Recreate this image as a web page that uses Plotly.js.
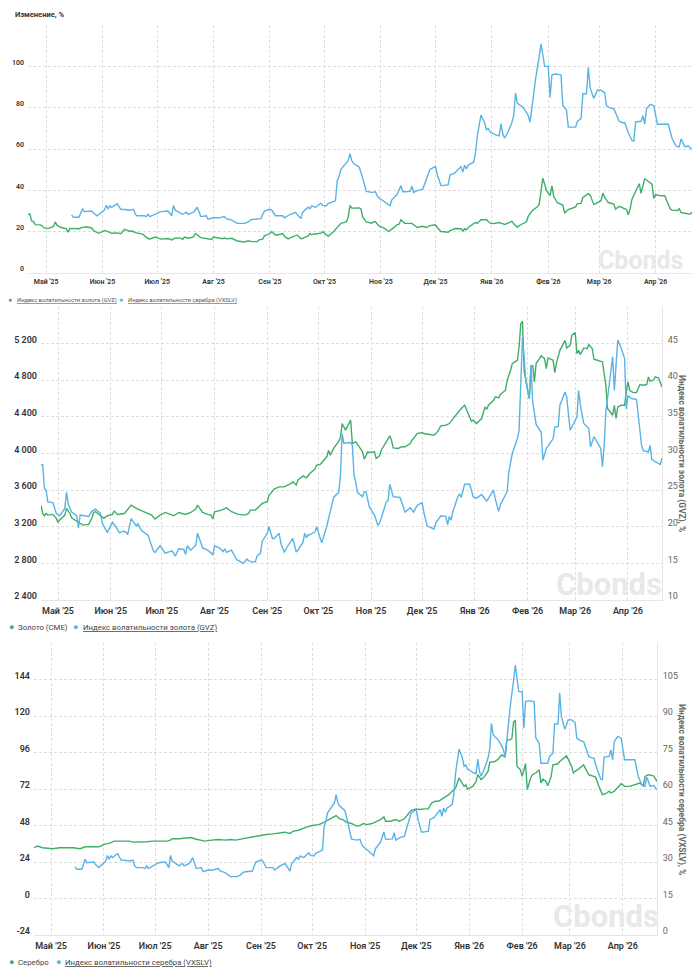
<!DOCTYPE html>
<html><head><meta charset="utf-8">
<script src="https://cdn.plot.ly/plotly-3.0.1.min.js"></script>
<style>html,body{margin:0;padding:0;background:#fff}#c{width:692px;height:969px}</style>
</head><body><div id="c"></div>
<script>
// ---------- data ----------
const monthTicks = ['2025-05-01','2025-06-01','2025-07-01','2025-08-01','2025-09-01','2025-10-01','2025-11-01','2025-12-01','2026-01-01','2026-02-01','2026-03-01','2026-04-01'];
const monthLabels = ["Май '25","Июн '25","Июл '25","Авг '25","Сен '25","Окт '25","Ноя '25","Дек '25","Янв '26","Фев '26","Мар '26","Апр '26"];

const pctTicks = [0,20,40,60,80,100,120];
const pctLabels = ['0','20','40','60','80','100',''];
const goldTicks = [2400,2800,3200,3600,4000,4400,4800,5200];
const goldLabels = ['2 400','2 800','3 200','3 600','4 000','4 400','4 800','5 200'];
const gvzTicks = [10,15,20,25,30,35,40,45];
const silverTicks = [-24,0,24,48,72,96,120,144];
const vxslvTicks = [0,15,30,45,60,75,90,105];

// Gold volatility index (GVZ), %
const gvz = [
['2025-04-21',28.4],['2025-04-22',28.5],['2025-04-23',25.2],['2025-04-24',25.0],['2025-04-25',23.4],['2025-04-28',23.3],['2025-04-30',21.8],
['2025-05-02',21.5],['2025-05-05',22.5],['2025-05-06',24.7],['2025-05-07',23.1],['2025-05-09',22.0],['2025-05-12',21.5],['2025-05-13',19.8],
['2025-05-14',21.6],['2025-05-16',21.5],['2025-05-19',21.4],['2025-05-21',22.1],['2025-05-23',22.4],['2025-05-26',21.8],['2025-05-27',20.5],
['2025-05-30',19.2],['2025-06-02',20.6],['2025-06-04',20.0],['2025-06-06',19.2],['2025-06-09',19.4],['2025-06-11',19.0],['2025-06-13',21.1],
['2025-06-16',20.1],['2025-06-17',20.4],['2025-06-19',19.5],['2025-06-23',18.8],['2025-06-26',16.7],['2025-06-27',16.5],['2025-06-30',17.4],
['2025-07-03',16.4],['2025-07-07',16.7],['2025-07-09',16.0],['2025-07-11',17.0],['2025-07-14',16.9],['2025-07-15',16.2],['2025-07-16',17.4],
['2025-07-18',16.8],['2025-07-21',17.5],['2025-07-22',19.1],['2025-07-25',17.1],['2025-07-28',16.8],['2025-07-31',16.2],['2025-08-01',17.4],
['2025-08-04',17.1],['2025-08-06',16.6],['2025-08-07',17.0],['2025-08-08',16.5],['2025-08-11',16.8],['2025-08-14',15.5],['2025-08-18',15.0],
['2025-08-20',15.6],['2025-08-22',15.2],['2025-08-25',15.2],['2025-08-26',16.0],['2025-08-28',16.4],['2025-08-29',18.0],['2025-09-01',19.1],
['2025-09-02',20.0],['2025-09-04',18.4],['2025-09-05',18.4],['2025-09-08',19.1],['2025-09-09',17.7],['2025-09-11',16.5],['2025-09-12',17.0],
['2025-09-16',18.4],['2025-09-18',16.6],['2025-09-19',16.8],['2025-09-22',17.9],['2025-09-23',19.1],['2025-09-24',18.5],['2025-09-25',18.9],
['2025-09-26',18.9],['2025-09-29',19.3],['2025-09-30',20.0],['2025-10-03',17.8],['2025-10-06',20.1],['2025-10-08',22.0],['2025-10-10',24.0],
['2025-10-13',24.7],['2025-10-14',27.0],['2025-10-15',32.7],['2025-10-16',31.4],['2025-10-20',31.5],['2025-10-21',31.1],['2025-10-22',27.0],
['2025-10-23',26.1],['2025-10-24',24.7],['2025-10-27',24.1],['2025-10-28',24.8],['2025-10-29',24.8],['2025-10-31',22.7],['2025-11-03',21.6],
['2025-11-05',20.2],['2025-11-06',20.5],['2025-11-10',23.4],['2025-11-11',23.6],['2025-11-12',25.8],['2025-11-14',24.1],['2025-11-18',24.0],
['2025-11-21',22.0],['2025-11-24',22.6],['2025-11-26',22.0],['2025-11-28',22.9],['2025-12-01',23.3],['2025-12-02',22.0],['2025-12-04',20.1],
['2025-12-08',19.7],['2025-12-09',20.5],['2025-12-12',21.5],['2025-12-15',21.4],['2025-12-16',20.3],['2025-12-17',21.4],['2025-12-18',20.9],
['2025-12-19',22.0],['2025-12-22',24.1],['2025-12-23',24.5],['2025-12-24',24.0],['2025-12-26',25.8],['2025-12-29',25.8],['2025-12-31',24.1],
['2026-01-02',23.9],['2026-01-05',24.4],['2026-01-06',24.1],['2026-01-08',23.5],['2026-01-12',25.0],['2026-01-13',23.8],['2026-01-15',22.1],
['2026-01-16',23.0],['2026-01-20',24.8],['2026-01-21',27.5],['2026-01-23',30.0],['2026-01-26',32.0],['2026-01-27',33.2],['2026-01-29',45.9],
['2026-01-30',43.0],['2026-01-31',39.8],['2026-02-02',37.5],['2026-02-03',42.1],['2026-02-04',37.0],['2026-02-06',34.0],['2026-02-09',32.9],
['2026-02-10',29.1],['2026-02-12',30.7],['2026-02-16',32.0],['2026-02-17',33.6],['2026-02-19',33.7],['2026-02-20',36.6],['2026-02-23',38.4],
['2026-02-24',37.7],['2026-02-26',33.2],['2026-02-27',33.6],['2026-03-02',35.0],['2026-03-03',38.6],['2026-03-04',36.6],['2026-03-06',34.1],
['2026-03-09',33.4],['2026-03-10',30.9],['2026-03-12',32.3],['2026-03-16',30.7],['2026-03-17',28.2],['2026-03-18',31.1],['2026-03-19',35.7],
['2026-03-23',43.2],['2026-03-24',38.6],['2026-03-26',45.5],['2026-03-27',45.0],['2026-03-30',43.0],['2026-03-31',36.1],['2026-04-01',37.9],
['2026-04-03',37.5],['2026-04-06',37.4],['2026-04-09',31.1],['2026-04-10',30.4],['2026-04-13',30.2],['2026-04-14',31.1],['2026-04-15',29.2],
['2026-04-17',28.9],['2026-04-20',28.5],['2026-04-21',29.4]
];

// Silver volatility index (VXSLV), %
const vxslv = [
['2025-05-15',28.1],['2025-05-16',27.0],['2025-05-19',27.0],['2025-05-21',31.1],['2025-05-22',29.7],['2025-05-26',30.0],['2025-05-27',29.0],
['2025-05-29',27.7],['2025-05-30',28.4],['2025-06-02',30.4],['2025-06-03',32.7],['2025-06-04',31.1],['2025-06-05',32.5],['2025-06-06',31.8],
['2025-06-09',33.5],['2025-06-11',30.8],['2025-06-13',30.7],['2025-06-16',30.4],['2025-06-18',30.8],['2025-06-19',28.4],['2025-06-20',27.7],
['2025-06-24',27.7],['2025-06-25',27.3],['2025-06-26',28.4],['2025-06-27',27.3],['2025-06-30',28.4],['2025-07-02',29.0],['2025-07-03',29.7],
['2025-07-07',30.0],['2025-07-09',27.7],['2025-07-10',32.7],['2025-07-11',30.4],['2025-07-15',28.4],['2025-07-17',29.4],['2025-07-18',28.4],
['2025-07-21',29.4],['2025-07-23',31.8],['2025-07-25',27.3],['2025-07-28',27.7],['2025-07-29',26.0],['2025-08-01',26.7],['2025-08-04',26.7],
['2025-08-07',27.3],['2025-08-08',26.3],['2025-08-11',25.6],['2025-08-14',24.0],['2025-08-18',24.0],['2025-08-20',24.7],['2025-08-22',25.9],
['2025-08-25',26.3],['2025-08-27',26.3],['2025-08-28',28.3],['2025-08-29',30.0],['2025-09-01',30.8],['2025-09-02',30.4],['2025-09-04',27.7],
['2025-09-08',27.7],['2025-09-09',26.7],['2025-09-12',28.3],['2025-09-15',29.4],['2025-09-17',27.0],['2025-09-18',26.3],['2025-09-19',29.4],
['2025-09-22',31.8],['2025-09-23',31.1],['2025-09-24',32.5],['2025-09-26',31.8],['2025-09-29',33.8],['2025-09-30',32.7],['2025-10-02',32.5],
['2025-10-03',33.6],['2025-10-07',34.9],['2025-10-08',44.7],['2025-10-09',46.8],['2025-10-10',50.2],['2025-10-13',53.0],['2025-10-14',54.3],
['2025-10-15',57.7],['2025-10-16',54.3],['2025-10-17',53.0],['2025-10-20',51.3],['2025-10-21',48.8],['2025-10-22',45.4],['2025-10-23',42.0],
['2025-10-24',39.5],['2025-10-27',39.0],['2025-10-29',39.3],['2025-10-30',37.2],['2025-10-31',36.3],['2025-11-03',34.5],['2025-11-05',33.1],
['2025-11-06',32.5],['2025-11-07',35.4],['2025-11-10',38.2],['2025-11-12',42.3],['2025-11-13',39.3],['2025-11-14',39.3],['2025-11-17',39.5],
['2025-11-18',42.0],['2025-11-19',39.0],['2025-11-21',39.9],['2025-11-24',40.6],['2025-11-26',45.4],['2025-11-28',50.2],['2025-12-01',51.5],
['2025-12-02',47.5],['2025-12-04',42.3],['2025-12-05',42.3],['2025-12-08',42.7],['2025-12-09',47.5],['2025-12-11',48.1],['2025-12-12',48.8],
['2025-12-15',51.5],['2025-12-16',48.8],['2025-12-17',52.2],['2025-12-18',50.4],['2025-12-19',52.2],['2025-12-22',53.6],['2025-12-23',58.2],
['2025-12-24',66.5],['2025-12-26',76.4],['2025-12-28',72.7],['2025-12-29',69.3],['2025-12-30',69.9],['2025-12-31',68.2],['2026-01-03',66.8],
['2026-01-05',66.3],['2026-01-06',72.3],['2026-01-07',67.2],['2026-01-08',65.2],['2026-01-10',68.6],['2026-01-12',72.7],['2026-01-13',76.4],
['2026-01-14',87.0],['2026-01-15',82.2],['2026-01-18',80.2],['2026-01-20',77.7],['2026-01-21',76.1],['2026-01-22',73.1],['2026-01-23',80.2],
['2026-01-25',93.8],['2026-01-27',104.7],['2026-01-28',110.9],['2026-01-30',100.0],['2026-02-01',100.0],['2026-02-02',85.0],['2026-02-03',95.9],
['2026-02-05',96.3],['2026-02-08',95.9],['2026-02-09',80.9],['2026-02-11',78.8],['2026-02-12',70.6],['2026-02-14',70.6],['2026-02-16',70.6],
['2026-02-17',73.4],['2026-02-19',74.7],['2026-02-20',86.7],['2026-02-22',86.7],['2026-02-23',99.5],['2026-02-24',89.7],['2026-02-26',84.5],
['2026-02-28',88.4],['2026-03-02',88.4],['2026-03-04',87.3],['2026-03-05',80.9],['2026-03-07',79.9],['2026-03-09',79.5],['2026-03-10',77.7],
['2026-03-12',73.4],['2026-03-14',72.7],['2026-03-15',72.7],['2026-03-17',67.9],['2026-03-19',64.1],['2026-03-20',63.8],['2026-03-21',73.1],
['2026-03-24',73.4],['2026-03-25',76.1],['2026-03-26',72.0],['2026-03-27',79.5],['2026-03-29',81.6],['2026-03-31',80.9],['2026-04-02',72.0],
['2026-04-04',72.0],['2026-04-08',72.0],['2026-04-10',65.2],['2026-04-12',61.8],['2026-04-13',61.1],['2026-04-14',61.1],['2026-04-15',64.9],
['2026-04-17',61.1],['2026-04-19',61.4],['2026-04-21',59.7]
];

// Gold (CME)
const gold = [
['2025-04-21',3436],['2025-04-22',3345],['2025-04-23',3320],['2025-04-24',3345],['2025-04-25',3327],['2025-04-28',3335],['2025-04-30',3291],
['2025-05-01',3247],['2025-05-02',3273],['2025-05-05',3327],['2025-05-06',3400],['2025-05-08',3345],['2025-05-09',3298],['2025-05-12',3255],
['2025-05-14',3236],['2025-05-16',3218],['2025-05-19',3226],['2025-05-21',3298],['2025-05-22',3356],['2025-05-23',3364],['2025-05-26',3320],
['2025-05-28',3291],['2025-05-30',3320],['2025-06-02',3335],['2025-06-03',3371],['2025-06-05',3335],['2025-06-09',3345],['2025-06-10',3371],
['2025-06-13',3436],['2025-06-16',3400],['2025-06-18',3382],['2025-06-20',3371],['2025-06-25',3327],['2025-06-27',3284],['2025-06-30',3327],
['2025-07-03',3356],['2025-07-07',3327],['2025-07-08',3320],['2025-07-11',3356],['2025-07-15',3335],['2025-07-18',3356],['2025-07-21',3393],
['2025-07-22',3436],['2025-07-25',3356],['2025-07-28',3335],['2025-07-30',3327],['2025-07-31',3284],['2025-08-01',3364],['2025-08-05',3382],
['2025-08-08',3407],['2025-08-11',3364],['2025-08-13',3345],['2025-08-15',3335],['2025-08-19',3327],['2025-08-21',3345],['2025-08-22',3382],
['2025-08-25',3382],['2025-08-27',3418],['2025-08-29',3455],['2025-09-01',3473],['2025-09-02',3545],['2025-09-03',3564],['2025-09-05',3611],
['2025-09-08',3636],['2025-09-11',3636],['2025-09-15',3673],['2025-09-16',3691],['2025-09-18',3655],['2025-09-19',3709],['2025-09-22',3756],
['2025-09-24',3735],['2025-09-26',3782],['2025-09-29',3829],['2025-09-30',3873],['2025-10-02',3880],['2025-10-06',3964],['2025-10-07',4036],
['2025-10-08',3982],['2025-10-10',4055],['2025-10-13',4135],['2025-10-14',4171],['2025-10-15',4327],['2025-10-17',4255],['2025-10-20',4364],
['2025-10-21',4109],['2025-10-23',4127],['2025-10-27',4018],['2025-10-28',3938],['2025-10-30',4018],['2025-10-31',4011],['2025-11-03',4018],
['2025-11-04',3945],['2025-11-06',3975],['2025-11-07',4036],['2025-11-10',4127],['2025-11-12',4193],['2025-11-13',4145],['2025-11-14',4062],
['2025-11-17',4055],['2025-11-19',4073],['2025-11-21',4073],['2025-11-24',4109],['2025-11-25',4145],['2025-11-26',4164],['2025-11-28',4218],
['2025-12-01',4229],['2025-12-02',4218],['2025-12-05',4207],['2025-12-08',4200],['2025-12-10',4236],['2025-12-12',4302],['2025-12-15',4309],
['2025-12-17',4327],['2025-12-19',4375],['2025-12-22',4447],['2025-12-23',4473],['2025-12-24',4491],['2025-12-26',4527],['2025-12-29',4382],
['2025-12-30',4353],['2025-12-31',4364],['2026-01-02',4327],['2026-01-05',4382],['2026-01-06',4462],['2026-01-07',4509],['2026-01-08',4484],
['2026-01-09',4527],['2026-01-12',4582],['2026-01-13',4618],['2026-01-15',4607],['2026-01-16',4644],['2026-01-19',4691],['2026-01-20',4800],
['2026-01-22',4909],['2026-01-23',4982],['2026-01-25',5007],['2026-01-26',5018],['2026-01-27',5164],['2026-01-28',5418],['2026-01-29',5444],
['2026-01-30',4891],['2026-01-31',4800],['2026-02-02',4600],['2026-02-03',4945],['2026-02-04',4964],['2026-02-05',4782],['2026-02-06',4982],
['2026-02-08',5036],['2026-02-09',5066],['2026-02-11',5036],['2026-02-12',4927],['2026-02-13',5044],['2026-02-16',5018],['2026-02-17',4884],
['2026-02-18',4993],['2026-02-20',5127],['2026-02-23',5236],['2026-02-24',5153],['2026-02-26',5182],['2026-02-27',5291],['2026-03-01',5320],
['2026-03-02',5091],['2026-03-03',5127],['2026-03-04',5080],['2026-03-06',5153],['2026-03-08',5145],['2026-03-09',5189],['2026-03-11',5145],
['2026-03-12',5029],['2026-03-14',5018],['2026-03-17',5000],['2026-03-19',4745],['2026-03-20',4491],['2026-03-23',4418],['2026-03-24',4527],
['2026-03-25',4382],['2026-03-26',4509],['2026-03-28',4527],['2026-03-30',4527],['2026-03-31',4673],['2026-04-01',4782],['2026-04-02',4691],
['2026-04-04',4665],['2026-04-06',4665],['2026-04-08',4753],['2026-04-10',4745],['2026-04-12',4753],['2026-04-13',4836],['2026-04-14',4789],
['2026-04-16',4800],['2026-04-17',4836],['2026-04-19',4825],['2026-04-21',4727]
];

// Silver
const silver = [
['2025-04-21',33.4],['2025-04-23',34.5],['2025-04-26',33.4],['2025-04-29',33.2],['2025-05-02',32.7],['2025-05-06',33.4],['2025-05-10',33.4],
['2025-05-14',33.4],['2025-05-18',32.7],['2025-05-21',34.0],['2025-05-25',34.0],['2025-05-29',34.0],['2025-05-31',34.9],['2025-06-01',35.6],
['2025-06-04',36.2],['2025-06-07',37.7],['2025-06-11',37.7],['2025-06-16',37.7],['2025-06-18',37.1],['2025-06-22',37.1],['2025-06-26',37.3],
['2025-06-30',37.7],['2025-07-05',37.7],['2025-07-08',37.7],['2025-07-10',38.4],['2025-07-11',39.3],['2025-07-15',39.3],['2025-07-19',39.7],
['2025-07-22',40.1],['2025-07-24',39.3],['2025-07-27',38.4],['2025-07-30',37.7],['2025-08-03',38.4],['2025-08-07',38.8],['2025-08-11',38.4],
['2025-08-14',38.8],['2025-08-17',38.4],['2025-08-21',39.3],['2025-08-24',39.9],['2025-08-28',41.0],['2025-08-31',41.4],['2025-09-04',42.1],
['2025-09-08',42.5],['2025-09-12',43.2],['2025-09-15',43.6],['2025-09-18',42.8],['2025-09-20',44.3],['2025-09-23',44.9],['2025-09-26',46.5],
['2025-09-28',47.1],['2025-10-01',48.0],['2025-10-05',48.6],['2025-10-08',50.2],['2025-10-11',51.9],['2025-10-13',53.0],['2025-10-15',54.5],
['2025-10-17',52.4],['2025-10-19',51.9],['2025-10-21',50.2],['2025-10-24',49.3],['2025-10-27',47.6],['2025-10-29',48.0],['2025-10-31',49.3],
['2025-11-02',48.6],['2025-11-05',49.3],['2025-11-08',50.8],['2025-11-10',51.9],['2025-11-12',53.7],['2025-11-13',50.8],['2025-11-16',50.8],
['2025-11-19',51.9],['2025-11-21',50.8],['2025-11-24',52.4],['2025-11-26',55.2],['2025-11-28',58.0],['2025-12-01',58.9],['2025-12-03',58.5],
['2025-12-06',58.9],['2025-12-08',58.9],['2025-12-10',62.8],['2025-12-12',63.9],['2025-12-14',63.9],['2025-12-16',65.4],['2025-12-18',66.5],
['2025-12-20',68.3],['2025-12-22',70.5],['2025-12-23',71.6],['2025-12-24',72.7],['2025-12-26',79.2],['2025-12-28',75.5],['2025-12-29',73.7],
['2025-12-30',74.8],['2025-12-31',72.0],['2026-01-03',73.7],['2026-01-05',77.0],['2026-01-06',81.4],['2026-01-08',78.1],['2026-01-10',80.3],
['2026-01-12',83.6],['2026-01-13',89.5],['2026-01-16',90.1],['2026-01-18',91.6],['2026-01-20',94.5],['2026-01-21',93.8],['2026-01-22',92.9],
['2026-01-23',104.3],['2026-01-25',104.3],['2026-01-26',105.4],['2026-01-27',116.3],['2026-01-28',116.9],['2026-01-29',86.8],['2026-01-31',84.6],
['2026-02-01',80.3],['2026-02-03',88.6],['2026-02-04',71.6],['2026-02-06',79.2],['2026-02-07',81.4],['2026-02-09',82.5],['2026-02-10',83.6],
['2026-02-11',84.6],['2026-02-12',75.9],['2026-02-13',78.5],['2026-02-15',77.0],['2026-02-16',74.2],['2026-02-18',80.3],['2026-02-19',87.9],
['2026-02-22',88.6],['2026-02-23',90.1],['2026-02-27',93.8],['2026-02-28',91.2],['2026-03-02',86.8],['2026-03-03',82.5],['2026-03-04',83.6],
['2026-03-06',85.1],['2026-03-09',87.9],['2026-03-12',81.4],['2026-03-15',80.3],['2026-03-16',79.8],['2026-03-18',73.7],['2026-03-20',68.3],
['2026-03-22',68.9],['2026-03-24',70.5],['2026-03-25',69.4],['2026-03-27',70.5],['2026-03-31',75.5],['2026-04-02',73.7],['2026-04-05',73.7],
['2026-04-09',75.5],['2026-04-11',75.9],['2026-04-13',74.2],['2026-04-14',80.3],['2026-04-16',81.4],['2026-04-19',80.7],['2026-04-21',77.0]
];

// ---------- styling ----------
const W = 692, H = 969;
const GREEN = '#3fae6b', BLUE = '#5ab3e5';
const GRID = '#dedede';
const px = v => v / W;
const py = v => 1 - v / H;
const xRange = ['2025-04-21', '2026-04-21'];

function xAxis(dom, anchor, size) {
  return {
    type: 'date', domain: dom, anchor: anchor, range: xRange,
    tickmode: 'array', tickvals: monthTicks, ticktext: monthLabels,
    showgrid: true, gridcolor: GRID, griddash: '3px,2px', gridwidth: 1,
    showline: true, linecolor: '#e6e6e6', linewidth: 1, zeroline: false,
    ticks: '', ticklabelstandoff: 2,
    tickfont: {family: 'Roboto', size: size, color: '#333', weight: 600}
  };
}
function yLeft(dom, anchor, range, tv, tt, size) {
  return {
    domain: dom, anchor: anchor, range: range, tickmode: 'array', tickvals: tv, ticktext: tt,
    showgrid: true, gridcolor: GRID, griddash: '3px,2px', gridwidth: 1, zeroline: false,
    showline: false, ticks: '', ticklabelstandoff: 3, ticklabelshift: -4,
    tickfont: {family: 'Roboto', size: size, color: '#333', weight: 600}
  };
}
function yRight(overl, anchor, range, tv) {
  return {
    overlaying: overl, anchor: anchor, side: 'right', range: range, tickmode: 'array', tickvals: tv,
    showgrid: false, zeroline: false, showline: true, linecolor: '#e6e6e6', linewidth: 1,
    ticks: '', ticklabelstandoff: 3, ticklabelshift: -4,
    tickfont: {family: 'Roboto', size: 9, color: '#666'}
  };
}
function line(series, xa, ya, color) {
  return {type: 'scatter', mode: 'lines', x: series.map(d => d[0]), y: series.map(d => d[1]),
          xaxis: xa, yaxis: ya, line: {color: color, width: 1.4}, hoverinfo: 'skip', showlegend: false};
}

const traces = [
  line(gvz, 'x', 'y', GREEN),
  line(vxslv, 'x', 'y', BLUE),
  line(gold, 'x2', 'y2', GREEN),
  line(gvz, 'x2', 'y3', BLUE),
  line(silver, 'x3', 'y4', GREEN),
  line(vxslv, 'x3', 'y5', BLUE)
];

function txt(x, y, text, size, color, extra) {
  return Object.assign({xref: 'paper', yref: 'paper', x: px(x), y: py(y), text: text, showarrow: false,
    xanchor: 'left', yanchor: 'middle', font: {family: 'Roboto', size: size, color: color}}, extra || {});
}
function dot(x, y, color, size) {
  return txt(x, y, '●', size, color, {xanchor: 'center'});
}
function mark(x, y, size) {
  return txt(x, y, 'Cbonds', size, '#e8e8e8', {xanchor: 'center', font: {family: 'Roboto', size: size, color: '#e8e8e8', weight: 700}});
}

const annotations = [
  txt(13, 15, 'Изменение, %', 7.5, '#333', {font: {family: 'Roboto', size: 7.5, color: '#333', weight: 700}}),
  mark(640, 260, 25), mark(609, 584, 31), mark(606, 916, 31),
  dot(10, 300, GREEN, 7), txt(15, 300, '<u>Индекс волатильности золота (GVZ)</u>', 5.8, '#555'),
  dot(121, 300, BLUE, 7), txt(126, 300, '<u>Индекс волатильности серебра (VXSLV)</u>', 5.8, '#555'),
  dot(11, 627, GREEN, 9), txt(16, 627, 'Золото (CME)', 7.8, '#444'),
  dot(75, 627, BLUE, 9), txt(81, 627, '<u>Индекс волатильности золота (GVZ)</u>', 7.8, '#444'),
  dot(11, 962, GREEN, 9), txt(16, 962, 'Серебро', 7.8, '#444'),
  dot(58, 962, BLUE, 9), txt(63, 962, '<u>Индекс волатильности серебра (VXSLV)</u>', 7.8, '#444'),
  txt(682, 453, 'Индекс волатильности золота (GVZ), %', 8.5, '#666',
      {xanchor: 'center', textangle: 90, font: {family: 'Roboto', size: 8.5, color: '#666', weight: 700}}),
  txt(682, 789, 'Индекс волатильности серебра (VXSLV), %', 8.5, '#666',
      {xanchor: 'center', textangle: 90, font: {family: 'Roboto', size: 8.5, color: '#666', weight: 700}})
];

const layout = {
  width: W, height: H, margin: {l: 0, r: 0, t: 0, b: 0},
  paper_bgcolor: '#fff', plot_bgcolor: 'rgba(0,0,0,0)', showlegend: false,
  font: {family: 'Roboto'},
  xaxis: xAxis([px(28), px(692)], 'y', 7),
  yaxis: yLeft([py(273), py(25)], 'x', [0, 120], pctTicks, pctLabels, 7),
  xaxis2: xAxis([px(41), px(662)], 'y2', 9),
  yaxis2: yLeft([py(600), py(307)], 'x2', [2400, 5600], goldTicks, goldLabels, 9),
  yaxis3: yRight('y2', 'x2', [10, 50], gvzTicks),
  xaxis3: xAxis([px(34), px(657)], 'y4', 9),
  yaxis4: yLeft([py(935), py(643)], 'x3', [-24, 168], silverTicks, silverTicks.map(String), 9),
  yaxis5: yRight('y4', 'x3', [0, 120], vxslvTicks),
  annotations: annotations
};

Plotly.newPlot('c', traces, layout, {staticPlot: true, displayModeBar: false});
</script></body></html>
